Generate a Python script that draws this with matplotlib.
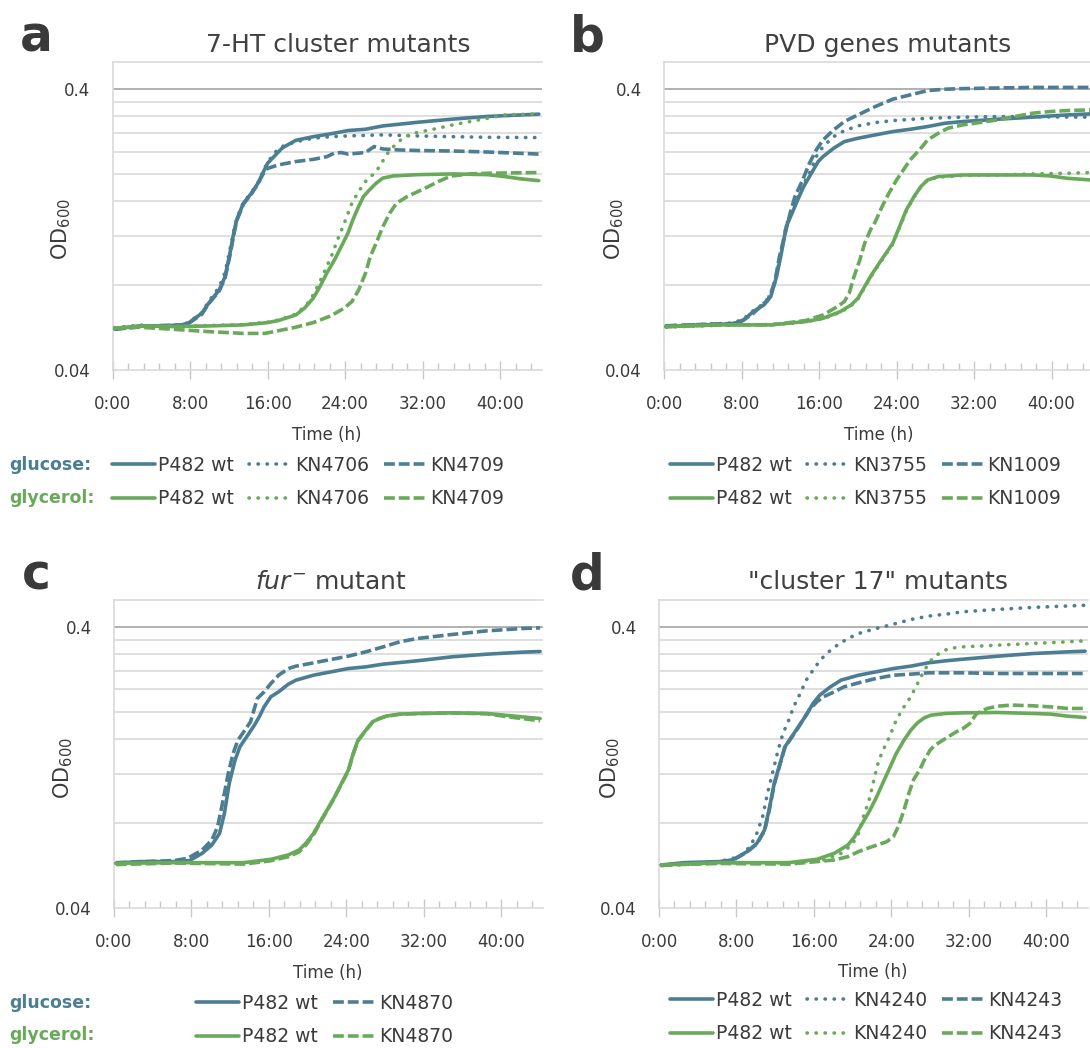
import matplotlib.pyplot as plt
from matplotlib.ticker import FixedLocator, FixedFormatter, MultipleLocator, NullFormatter

W, H = 1090, 1048

BLUE = '#4b7e92'
GREEN = '#69a95a'
TEXT = '#3b3b3b'
GRID = '#d9d9d9'

GRID_OD = [0.08, 0.12, 0.16, 0.20, 0.24, 0.28, 0.32, 0.36]
HOUR_TICKS = [0, 8, 16, 24, 32, 40]
HOUR_LABELS = ['0:00', '8:00', '16:00', '24:00', '32:00', '40:00']
X_MAX = 44.3

# ---- a: 7-HT cluster mutants ----
A_LABELS = ['P482 wt', 'KN4706', 'KN4709']
A_GLU_WT_T = [0.2, 2.8, 4.9, 7.1, 7.8, 9.2, 9.9, 11.0, 11.6, 12.1, 12.5, 12.8, 13.5, 14.3, 15.0, 15.5, 16.0, 16.8, 17.5, 18.9, 20.7, 22.9, 24.3, 26.1, 27.9, 31.5, 35.1, 38.7, 44.0]
A_GLU_WT_OD = [0.056, 0.0574, 0.0574, 0.0579, 0.0587, 0.0637, 0.0691, 0.0771, 0.086, 0.104, 0.123, 0.137, 0.157, 0.170, 0.185, 0.201, 0.218, 0.233, 0.247, 0.263, 0.271, 0.279, 0.285, 0.288, 0.296, 0.305, 0.313, 0.320, 0.326]
A_GLU_M1_T = [0.2, 2.8, 4.9, 7.1, 7.8, 9.2, 9.9, 11.0, 11.6, 12.1, 12.5, 12.8, 13.5, 14.3, 15.0, 15.5, 16.0, 16.8, 17.5, 18.9, 20.7, 22.5, 24.3, 27.9, 31.5, 35.1, 38.7, 44.0]
A_GLU_M1_OD = [0.0565, 0.0578, 0.0572, 0.058, 0.059, 0.064, 0.070, 0.079, 0.089, 0.107, 0.125, 0.138, 0.158, 0.171, 0.186, 0.203, 0.220, 0.239, 0.250, 0.260, 0.2675, 0.271, 0.2727, 0.275, 0.2727, 0.271, 0.2697, 0.269]
A_GLU_M2_T = [0.2, 2.8, 4.9, 7.1, 7.8, 9.2, 9.9, 11.0, 11.6, 12.1, 12.5, 12.8, 13.5, 14.3, 15.0, 15.5, 16.0, 17.1, 18.9, 20.7, 22.1, 22.9, 23.6, 24.3, 26.1, 27.0, 27.9, 29.7, 31.5, 35.1, 38.7, 44.0]
A_GLU_M2_OD = [0.0558, 0.0570, 0.0576, 0.0578, 0.0585, 0.0632, 0.0688, 0.0765, 0.085, 0.102, 0.121, 0.136, 0.156, 0.169, 0.184, 0.199, 0.209, 0.215, 0.221, 0.225, 0.230, 0.237, 0.238, 0.235, 0.238, 0.250, 0.245, 0.243, 0.242, 0.241, 0.239, 0.235]
A_GLY_WT_T = [0.2, 2.8, 6.4, 9.9, 13.5, 16.0, 17.1, 18.9, 19.8, 20.7, 21.4, 22.1, 22.9, 23.6, 24.3, 24.8, 25.4, 25.9, 26.5, 27.2, 27.9, 29.0, 31.5, 35.1, 38.7, 40.5, 42.2, 44.0]
A_GLY_WT_OD = [0.0563, 0.0574, 0.0571, 0.0574, 0.0579, 0.059, 0.060, 0.0628, 0.0664, 0.072, 0.0793, 0.0884, 0.0986, 0.110, 0.123, 0.137, 0.153, 0.166, 0.175, 0.185, 0.193, 0.1965, 0.1985, 0.1997, 0.1985, 0.1954, 0.1917, 0.189]
A_GLY_M1_T = [0.2, 2.8, 6.4, 9.9, 13.5, 16.0, 17.1, 18.9, 20.0, 20.7, 21.4, 22.1, 22.7, 23.2, 23.9, 24.7, 25.4, 26.1, 27.2, 28.4, 29.3, 30.2, 31.1, 33.6, 35.1, 36.9, 38.7, 40.5, 44.0]
A_GLY_M1_OD = [0.0566, 0.0576, 0.0573, 0.0576, 0.058, 0.0592, 0.0603, 0.0632, 0.0682, 0.074, 0.0826, 0.0934, 0.104, 0.116, 0.133, 0.157, 0.173, 0.1875, 0.2036, 0.2366, 0.2568, 0.2712, 0.2787, 0.2905, 0.2985, 0.3068, 0.3153, 0.324, 0.3267]
A_GLY_M2_T = [0.2, 2.8, 6.4, 9.9, 13.5, 15.7, 17.1, 18.9, 20.7, 22.5, 23.9, 24.7, 25.4, 26.1, 26.6, 27.2, 27.9, 28.6, 29.3, 30.4, 31.5, 32.6, 33.6, 34.4, 35.1, 36.9, 38.7, 44.0]
A_GLY_M2_OD = [0.0563, 0.0568, 0.0558, 0.0548, 0.054, 0.054, 0.0552, 0.0568, 0.059, 0.0623, 0.0664, 0.0701, 0.0771, 0.0884, 0.1014, 0.1131, 0.1296, 0.1446, 0.157, 0.1658, 0.1727, 0.180, 0.1875, 0.1927, 0.1965, 0.1997, 0.2008, 0.202]

# ---- b: PVD genes mutants ----
B_LABELS = ['P482 wt', 'KN3755', 'KN1009']
B_GLU_WT_T = [0.2, 3.8, 7.1, 8.2, 9.2, 10.3, 11.0, 11.6, 12.1, 12.6, 13.2, 13.7, 14.4, 15.2, 15.9, 16.4, 17.5, 18.6, 20.0, 21.8, 23.6, 25.4, 27.2, 29.0, 30.8, 34.4, 38.0, 41.6, 44.0]
B_GLU_WT_OD = [0.0571, 0.0579, 0.0584, 0.0603, 0.0646, 0.0682, 0.073, 0.086, 0.1042, 0.1296, 0.1446, 0.159, 0.180, 0.2008, 0.221, 0.2302, 0.2465, 0.2603, 0.2675, 0.275, 0.2826, 0.288, 0.2945, 0.3026, 0.3068, 0.3127, 0.318, 0.324, 0.3267]
B_GLU_M1_T = [0.2, 3.8, 7.1, 8.2, 9.2, 10.3, 11.0, 11.6, 12.1, 12.6, 13.2, 13.7, 14.4, 15.0, 15.7, 16.4, 17.5, 18.6, 20.0, 21.8, 23.6, 27.2, 30.8, 34.4, 44.0]
B_GLU_M1_OD = [0.0575, 0.0581, 0.0588, 0.0608, 0.065, 0.069, 0.074, 0.088, 0.106, 0.131, 0.148, 0.162, 0.184, 0.2008, 0.2302, 0.2499, 0.2712, 0.2849, 0.2961, 0.3043, 0.3093, 0.3153, 0.318, 0.3196, 0.318]
B_GLU_M2_T = [0.2, 3.8, 7.1, 7.8, 9.2, 10.7, 11.4, 11.9, 12.5, 13.0, 13.5, 14.3, 15.0, 15.7, 16.4, 17.5, 18.6, 20.0, 21.8, 23.6, 25.4, 27.2, 29.0, 30.8, 34.4, 38.0, 44.0]
B_GLU_M2_OD = [0.0575, 0.0581, 0.0586, 0.059, 0.0637, 0.0711, 0.0815, 0.1014, 0.1228, 0.1446, 0.1658, 0.1901, 0.218, 0.2431, 0.2639, 0.2865, 0.3068, 0.324, 0.347, 0.3686, 0.3818, 0.3956, 0.400, 0.402, 0.404, 0.406, 0.406]
B_GLY_WT_T = [0.2, 5.6, 11.0, 12.8, 14.6, 16.4, 18.2, 19.3, 20.0, 20.7, 21.4, 22.2, 22.9, 23.6, 24.3, 25.0, 25.8, 26.5, 27.2, 28.3, 30.8, 34.4, 38.0, 39.8, 41.6, 44.0]
B_GLY_WT_OD = [0.0571, 0.0579, 0.0579, 0.0587, 0.0595, 0.0611, 0.0646, 0.0682, 0.072, 0.0793, 0.0872, 0.096, 0.1042, 0.1131, 0.1296, 0.1486, 0.1658, 0.180, 0.1901, 0.1954, 0.198, 0.198, 0.198, 0.1965, 0.1927, 0.1901]
B_GLY_M1_T = [0.2, 5.6, 11.0, 12.8, 14.6, 16.4, 18.2, 19.3, 20.0, 20.7, 21.4, 22.2, 22.9, 23.6, 24.3, 25.0, 25.8, 26.5, 27.2, 28.3, 30.8, 34.4, 38.0, 41.6, 44.0]
B_GLY_M1_OD = [0.0568, 0.0577, 0.0581, 0.0585, 0.0594, 0.0609, 0.0642, 0.0678, 0.0716, 0.0787, 0.0866, 0.0952, 0.1035, 0.1124, 0.1285, 0.1475, 0.165, 0.1795, 0.1901, 0.1944, 0.1971, 0.198, 0.1997, 0.2008, 0.202]
B_GLY_M2_T = [0.2, 5.6, 11.0, 14.6, 16.4, 17.9, 18.6, 19.1, 19.6, 20.2, 20.7, 21.3, 21.8, 22.5, 23.2, 24.0, 24.7, 25.4, 26.5, 27.2, 28.3, 29.3, 30.8, 32.6, 34.4, 36.2, 38.0, 39.8, 41.6, 44.0]
B_GLY_M2_OD = [0.0571, 0.0579, 0.0579, 0.060, 0.0628, 0.0673, 0.0701, 0.075, 0.086, 0.0986, 0.1131, 0.1262, 0.135, 0.1528, 0.1704, 0.1901, 0.2064, 0.224, 0.2465, 0.2639, 0.2787, 0.2905, 0.2985, 0.3043, 0.311, 0.3196, 0.3285, 0.333, 0.3358, 0.3376]

# ---- c: fur- mutant ----
C_LABELS = ['P482 wt', 'KN4870']
C_GLU_WT_T = [0.2, 2.6, 6.2, 7.8, 9.1, 10.1, 10.9, 11.4, 11.9, 12.5, 13.0, 13.7, 14.5, 15.0, 15.5, 16.2, 17.0, 18.0, 18.8, 20.6, 22.4, 24.2, 26.0, 27.8, 31.3, 34.9, 38.5, 42.1, 44.0]
C_GLU_WT_OD = [0.0576, 0.0584, 0.0584, 0.0589, 0.0625, 0.0669, 0.0736, 0.0867, 0.111, 0.1343, 0.1498, 0.1627, 0.179, 0.1917, 0.208, 0.226, 0.2353, 0.2505, 0.259, 0.2697, 0.2772, 0.2849, 0.2888, 0.2953, 0.3035, 0.3136, 0.3205, 0.3258, 0.3276]
C_GLU_M1_T = [0.2, 6.2, 7.6, 9.1, 10.1, 10.7, 11.2, 11.8, 12.3, 12.8, 13.4, 14.1, 14.8, 15.5, 16.2, 17.0, 18.0, 18.8, 20.6, 22.4, 24.2, 26.0, 27.8, 29.5, 31.3, 34.9, 38.5, 42.1, 44.0]
C_GLU_M1_OD = [0.0579, 0.0589, 0.060, 0.0642, 0.0697, 0.0777, 0.0942, 0.1204, 0.1419, 0.1583, 0.1695, 0.184, 0.2228, 0.2353, 0.2519, 0.2697, 0.2849, 0.2905, 0.2985, 0.3068, 0.3153, 0.3267, 0.3404, 0.3547, 0.3645, 0.3767, 0.3881, 0.3956, 0.3978]
C_GLY_WT_T = [0.2, 6.2, 13.4, 16.2, 18.0, 19.1, 19.8, 20.6, 21.3, 22.0, 22.7, 23.4, 24.2, 24.7, 25.2, 26.0, 26.7, 27.4, 28.1, 29.5, 31.3, 34.9, 38.5, 40.3, 42.1, 44.0]
C_GLY_WT_OD = [0.0576, 0.0579, 0.0579, 0.0595, 0.0617, 0.0642, 0.0678, 0.0736, 0.0811, 0.0891, 0.0981, 0.1094, 0.1238, 0.1419, 0.1583, 0.1717, 0.184, 0.189, 0.1927, 0.196, 0.197, 0.198, 0.197, 0.1943, 0.1917, 0.189]
C_GLY_M1_T = [0.2, 6.2, 13.4, 16.2, 18.0, 19.1, 19.8, 20.6, 21.3, 22.0, 22.7, 23.4, 24.2, 24.7, 25.2, 26.0, 26.7, 27.4, 28.1, 29.5, 31.3, 34.9, 38.5, 40.3, 42.1, 44.0]
C_GLY_M1_OD = [0.0570, 0.0577, 0.0572, 0.0588, 0.0608, 0.0632, 0.0668, 0.0728, 0.0805, 0.0887, 0.0978, 0.1090, 0.1232, 0.1410, 0.1575, 0.1712, 0.1835, 0.1888, 0.1925, 0.1958, 0.1968, 0.1978, 0.1965, 0.1925, 0.1890, 0.1855]

# ---- d: "cluster 17" mutants ----
D_LABELS = ['P482 wt', 'KN4240', 'KN4243']
D_GLU_WT_T = [0.25, 2.6, 6.2, 7.6, 9.1, 10.1, 10.9, 11.4, 11.9, 12.5, 13.0, 13.7, 14.5, 15.2, 15.9, 16.6, 17.7, 18.8, 20.6, 22.4, 24.2, 26.0, 27.8, 29.6, 31.4, 35.0, 38.6, 42.2, 44.0]
D_GLU_WT_OD = [0.0568, 0.0579, 0.0584, 0.0592, 0.0634, 0.0678, 0.0757, 0.0904, 0.111, 0.1307, 0.1498, 0.1627, 0.179, 0.1943, 0.2138, 0.229, 0.2451, 0.259, 0.2697, 0.2772, 0.2849, 0.2905, 0.2985, 0.3035, 0.3076, 0.3153, 0.3222, 0.3267, 0.3285]
D_GLU_M1_T = [0.25, 6.2, 8.35, 9.4, 10.1, 10.7, 11.2, 11.8, 12.3, 12.8, 13.4, 13.9, 14.5, 15.2, 15.9, 16.6, 17.3, 18.4, 19.5, 20.6, 22.4, 24.2, 26.0, 27.8, 29.6, 31.4, 35.0, 38.6, 42.2, 44.0]
D_GLU_M1_OD = [0.0568, 0.0584, 0.0608, 0.066, 0.0736, 0.0844, 0.1022, 0.1238, 0.1459, 0.1672, 0.1866, 0.208, 0.229, 0.259, 0.281, 0.3035, 0.3222, 0.3451, 0.3645, 0.3797, 0.3956, 0.41, 0.426, 0.438, 0.445, 0.454, 0.463, 0.4705, 0.476, 0.4788]
D_GLU_M2_T = [0.25, 2.6, 6.2, 7.6, 9.1, 10.1, 10.9, 11.4, 11.9, 12.5, 13.0, 13.7, 14.5, 15.5, 16.3, 17.0, 18.1, 19.1, 20.6, 22.4, 24.2, 26.0, 27.8, 31.4, 35.0, 38.6, 44.0]
D_GLU_M2_OD = [0.0565, 0.0575, 0.0582, 0.059, 0.0632, 0.0675, 0.0752, 0.0898, 0.110, 0.130, 0.149, 0.162, 0.178, 0.2025, 0.2168, 0.226, 0.2353, 0.2451, 0.2533, 0.2625, 0.2697, 0.272, 0.275, 0.275, 0.2735, 0.2735, 0.2735]
D_GLY_WT_T = [0.25, 6.2, 13.4, 16.3, 18.1, 19.5, 20.2, 20.9, 21.7, 22.4, 23.1, 23.8, 24.5, 25.3, 26.0, 26.7, 27.4, 28.1, 29.6, 31.4, 35.0, 38.6, 40.4, 42.2, 44.0]
D_GLY_WT_OD = [0.0568, 0.0579, 0.0579, 0.0595, 0.0625, 0.0669, 0.0716, 0.0789, 0.088, 0.0981, 0.111, 0.1255, 0.1419, 0.1583, 0.1717, 0.1825, 0.1901, 0.1943, 0.197, 0.198, 0.1986, 0.197, 0.196, 0.1927, 0.1906]
D_GLY_M1_T = [0.25, 6.2, 13.4, 17.0, 18.8, 19.9, 20.6, 21.1, 21.7, 22.2, 22.7, 23.3, 23.8, 24.5, 25.3, 26.0, 26.7, 27.4, 28.1, 28.9, 29.9, 31.4, 35.0, 38.6, 42.2, 44.0]
D_GLY_M1_OD = [0.0565, 0.0577, 0.0579, 0.0592, 0.0625, 0.0669, 0.0736, 0.0844, 0.0968, 0.1146, 0.1343, 0.1498, 0.1627, 0.1866, 0.208, 0.226, 0.2519, 0.281, 0.3052, 0.3222, 0.3358, 0.3404, 0.3451, 0.3499, 0.3547, 0.3576]
D_GLY_M2_T = [0.25, 6.2, 13.4, 16.3, 18.1, 19.5, 20.6, 22.0, 23.5, 24.2, 24.7, 25.3, 25.8, 26.3, 26.9, 27.4, 28.0, 28.5, 29.6, 30.7, 31.4, 32.1, 32.8, 33.9, 35.0, 36.4, 38.6, 40.4, 42.2, 44.0]
D_GLY_M2_OD = [0.0568, 0.0575, 0.0572, 0.0584, 0.0592, 0.0608, 0.0634, 0.066, 0.0687, 0.0716, 0.0777, 0.0891, 0.1022, 0.1146, 0.1238, 0.1343, 0.1459, 0.1519, 0.1605, 0.1695, 0.1741, 0.1815, 0.197, 0.2053, 0.2092, 0.211, 0.2098, 0.208, 0.2053, 0.2053]

# line styles: wild type solid, first mutant round dots, second mutant dashes
SOLID = '-'
DOTS = (0, (0.1, 2.4))
DASHES = (0, (3.0, 1.1))
LW = 2.6

fig = plt.figure(figsize=(W / 100, H / 100), dpi=100)


def fx(x):
    return x / W


def fy(y):
    return 1 - y / H


def make_axes(x0, x1, y_top, y_bot):
    ax = fig.add_axes([fx(x0), fy(y_bot), (x1 - x0) / W, (y_bot - y_top) / H])
    ax.set_yscale('log')
    ax.set_xlim(0, X_MAX)
    ax.set_ylim(0.04, 0.5)
    ax.yaxis.set_major_locator(FixedLocator([0.04, 0.4]))
    ax.yaxis.set_major_formatter(FixedFormatter(['0.04', '0.4']))
    ax.yaxis.set_minor_locator(FixedLocator(GRID_OD))
    ax.yaxis.set_minor_formatter(NullFormatter())
    ax.tick_params(axis='y', which='both', length=0, pad=16, labelsize=12, labelcolor=TEXT)
    ax.set_xticks(HOUR_TICKS, HOUR_LABELS)
    ax.xaxis.set_minor_locator(MultipleLocator(1.6))
    ax.tick_params(axis='x', which='major', direction='inout', length=13, width=1,
                   color='#c8c8c8', pad=11.5, labelsize=12, labelcolor=TEXT)
    ax.tick_params(axis='x', which='minor', direction='in', length=5, width=1, color='#c8c8c8')
    ax.grid(axis='y', which='minor', color=GRID, lw=1.2, zorder=0)
    ax.axhline(0.4, color='#a3a3a3', lw=1.2, zorder=1)
    for side in ['left', 'top', 'bottom']:
        ax.spines[side].set_color(GRID)
        ax.spines[side].set_linewidth(1.2)
    ax.spines['right'].set_visible(False)
    return ax


def draw(ax, t, od, color, style, label):
    line, = ax.plot(t, od, color=color, linestyle=style, lw=LW, label=label,
                    dash_capstyle='round' if style == DOTS else 'butt',
                    solid_capstyle='round', zorder=3)
    return line


def add_legend(handles, labels, x, y, ncol):
    fig.legend(handles, labels, loc='upper left', bbox_to_anchor=(fx(x), fy(y)),
               ncol=ncol, frameon=False, fontsize=13.5, labelcolor=TEXT,
               handlelength=2.3, handletextpad=0.15, columnspacing=0.8,
               labelspacing=0.75, borderpad=0, borderaxespad=0)


def panel_text(letter, title, x_letter, x_title, y_base, x_ylab, y_ylab, x_time, y_time):
    fig.text(fx(x_letter), fy(y_base), letter, fontsize=35, fontweight='bold',
             color='#3a3a3a', ha='left', va='baseline')
    fig.text(fx(x_title), fy(y_base), title, fontsize=18, color='#404040',
             ha='center', va='baseline')
    fig.text(fx(x_ylab), fy(y_ylab), r'OD$_{600}$', fontsize=15, color=TEXT,
             rotation=90, ha='center', va='center')
    fig.text(fx(x_time), fy(y_time), 'Time (h)', fontsize=12, color=TEXT,
             ha='center', va='center')


def medium_labels(y1, y2):
    fig.text(fx(9), fy(y1), 'glucose:', fontsize=12.5, fontweight='bold',
             color=BLUE, ha='left', va='center')
    fig.text(fx(9), fy(y2), 'glycerol:', fontsize=12.5, fontweight='bold',
             color=GREEN, ha='left', va='center')


# a
ax = make_axes(112.7, 541.7, 62, 370)
h = [draw(ax, A_GLU_WT_T, A_GLU_WT_OD, BLUE, SOLID, A_LABELS[0]),
     draw(ax, A_GLU_M1_T, A_GLU_M1_OD, BLUE, DOTS, A_LABELS[1]),
     draw(ax, A_GLU_M2_T, A_GLU_M2_OD, BLUE, DASHES, A_LABELS[2]),
     draw(ax, A_GLY_WT_T, A_GLY_WT_OD, GREEN, SOLID, A_LABELS[0]),
     draw(ax, A_GLY_M1_T, A_GLY_M1_OD, GREEN, DOTS, A_LABELS[1]),
     draw(ax, A_GLY_M2_T, A_GLY_M2_OD, GREEN, DASHES, A_LABELS[2])]
order = [0, 3, 1, 4, 2, 5]
add_legend([h[i] for i in order], [h[i].get_label() for i in order], 112, 456, 3)
panel_text('a', '7-HT cluster mutants', 20, 338, 52, 61, 229, 327, 435)
medium_labels(465, 498)

# b
ax = make_axes(664.2, 1093.2, 62, 370)
h = [draw(ax, B_GLU_WT_T, B_GLU_WT_OD, BLUE, SOLID, B_LABELS[0]),
     draw(ax, B_GLU_M1_T, B_GLU_M1_OD, BLUE, DOTS, B_LABELS[1]),
     draw(ax, B_GLU_M2_T, B_GLU_M2_OD, BLUE, DASHES, B_LABELS[2]),
     draw(ax, B_GLY_WT_T, B_GLY_WT_OD, GREEN, SOLID, B_LABELS[0]),
     draw(ax, B_GLY_M1_T, B_GLY_M1_OD, GREEN, DOTS, B_LABELS[1]),
     draw(ax, B_GLY_M2_T, B_GLY_M2_OD, GREEN, DASHES, B_LABELS[2])]
add_legend([h[i] for i in order], [h[i].get_label() for i in order], 670, 456, 3)
panel_text('b', 'PVD genes mutants', 570, 888, 52, 614, 229, 879, 435)

# c
ax = make_axes(114, 543, 600, 907.7)
h = [draw(ax, C_GLU_WT_T, C_GLU_WT_OD, BLUE, SOLID, C_LABELS[0]),
     draw(ax, C_GLU_M1_T, C_GLU_M1_OD, BLUE, DASHES, C_LABELS[1]),
     draw(ax, C_GLY_WT_T, C_GLY_WT_OD, GREEN, SOLID, C_LABELS[0]),
     draw(ax, C_GLY_M1_T, C_GLY_M1_OD, GREEN, DASHES, C_LABELS[1])]
add_legend([h[i] for i in [0, 2, 1, 3]], [h[i].get_label() for i in [0, 2, 1, 3]], 196, 994, 2)
panel_text('c', r'$\mathit{fur}^{-}$ mutant', 22, 331, 589, 63, 768, 328, 973)
medium_labels(1003, 1035)

# d
ax = make_axes(659, 1088, 600, 907.7)
h = [draw(ax, D_GLU_WT_T, D_GLU_WT_OD, BLUE, SOLID, D_LABELS[0]),
     draw(ax, D_GLU_M1_T, D_GLU_M1_OD, BLUE, DOTS, D_LABELS[1]),
     draw(ax, D_GLU_M2_T, D_GLU_M2_OD, BLUE, DASHES, D_LABELS[2]),
     draw(ax, D_GLY_WT_T, D_GLY_WT_OD, GREEN, SOLID, D_LABELS[0]),
     draw(ax, D_GLY_M1_T, D_GLY_M1_OD, GREEN, DOTS, D_LABELS[1]),
     draw(ax, D_GLY_M2_T, D_GLY_M2_OD, GREEN, DASHES, D_LABELS[2])]
add_legend([h[i] for i in order], [h[i].get_label() for i in order], 670, 991, 3)
panel_text('d', '"cluster 17" mutants', 570, 878, 589, 610, 768, 873, 972)

fig.savefig('out.png', dpi=100)
